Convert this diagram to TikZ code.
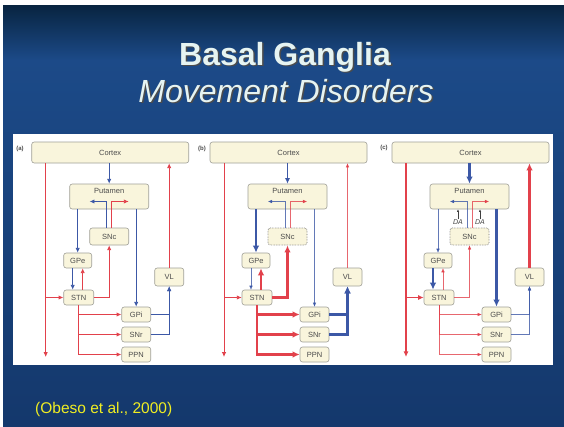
\documentclass[tikz,border=0pt]{standalone}
\usepackage{fontspec}
\setmainfont{Liberation Sans}
\usetikzlibrary{arrows.meta}
\definecolor{bgtop}{HTML}{082440}
\definecolor{bgmid}{HTML}{1C4A88}
\definecolor{bgbot}{HTML}{14386C}
\definecolor{boxfill}{HTML}{F9F5DC}
\definecolor{boxline}{HTML}{A0A098}
\definecolor{ared}{HTML}{E2414B}
\definecolor{ablue}{HTML}{3C58A6}
\definecolor{titlecol}{HTML}{E6F4F2}
\definecolor{citecol}{HTML}{F0EE22}
\tikzset{
  bx/.style={draw=boxline, fill=boxfill, rounded corners=2.5pt, line width=0.6pt,
    font=\fontsize{7.5}{8}\selectfont, text=black!70, inner sep=0pt,
    minimum width=29pt, minimum height=15pt},
  boxtxt/.style={font=\fontsize{7.5}{8}\selectfont, text=black!70, inner sep=0pt},
  arrtip/.style={-{Latex[length=3.5pt 1.6,width=3pt 1.6]}},
  rd/.style={draw=ared, arrtip},
  bl/.style={draw=ablue, arrtip},
  lwthin/.style={line width=0.35pt, draw opacity=0.8},
  lwmed/.style={line width=0.8pt},
  lwmedp/.style={line width=1.3pt},
  lwthick/.style={line width=2.2pt},
  nobox/.style={},
  dotbox/.style={draw=black!55, densely dotted, line width=0.8pt},
  plab/.style={font=\bfseries\fontsize{6}{7}\selectfont, text=black!70, inner sep=0pt},
  % panel a
  actp/.style={lwmed}, apge/.style={lwmed}, apgi/.style={lwmed}, asnb/.style={lwmed},
  asnr/.style={lwmed}, ags/.style={lwmed}, asg/.style={lwmed}, assn/.style={lwmed},
  asout/.style={lwmed}, agvl/.style={lwmed}, avlc/.style={lwmed}, acst/.style={lwmed},
  asnbox/.style={nobox},
  % panel b
  bctp/.style={lwmedp}, bpge/.style={lwthick}, bpgi/.style={lwthin}, bsnb/.style={lwthin},
  bsnr/.style={lwthin}, bgs/.style={lwthin}, bsg/.style={lwthick}, bssn/.style={lwthick},
  bsout/.style={lwthick}, bgvl/.style={lwthick}, bvlc/.style={lwthin}, bcst/.style={lwmed},
  bsnbox/.style={dotbox},
  % panel c
  cctp/.style={lwthick}, cpge/.style={lwthin}, cpgi/.style={lwthick}, csnb/.style={lwthin},
  csnr/.style={lwthin}, cgs/.style={lwthick}, csg/.style={lwthin}, cssn/.style={lwthin},
  csout/.style={lwthin}, cgvl/.style={lwthin}, cvlc/.style={lwthick}, ccst/.style={lwmedp},
  csnbox/.style={dotbox},
}
\newcommand\bgpanel[2]{%
\begin{scope}[shift={(#2,0)}]
  \node[bx, minimum width=157pt, minimum height=21pt] (#1ctx) at (78.5,152.5) {Cortex};
  \node[bx, minimum width=79pt, minimum height=25pt] (#1put) at (77.5,196.5) {};
  \node[boxtxt] (#1putt) at (77.5,190.5) {Putamen};
  \node[bx, minimum width=39pt, minimum height=17pt, #1snbox] (#1snc) at (77.5,236.5) {SNc};
  \node[bx, minimum width=28pt] (#1gpe) at (46,260.5) {GPe};
  \node[bx, minimum width=30pt] (#1stn) at (47,297.5) {STN};
  \node[bx, minimum height=18pt] (#1vl) at (137.5,277) {VL};
  \node[bx] (#1gpi) at (104.5,314.5) {GPi};
  \node[bx] (#1snr) at (104.5,334.5) {SNr};
  \node[bx] (#1ppn) at (104.5,354.5) {PPN};
  \coordinate (#1rlend) at (14,357);
  \coordinate (#1sbt) at (75,201.5);
  \coordinate (#1sbe) at (58,201.5);
  \coordinate (#1srt) at (80,201.5);
  \coordinate (#1sre) at (97,201.5);
  \draw[rd,#1cst] (#1ctx.south -| #1rlend) -- (#1rlend);
  \draw[rd,#1cst] (#1rlend |- #1stn.west) -- (#1stn.west);
  \draw[bl,#1ctp] (#1ctx.south -| #1put.north) -- (#1put.north);
  \draw[bl,#1pge] (#1put.south -| #1gpe.north) -- (#1gpe.north);
  \draw[bl,#1pgi] (#1put.south -| #1gpi.north) -- (#1gpi.north);
  \draw[bl,#1snb] (#1snc.north -| #1sbt) -- (#1sbt) -- (#1sbe);
  \draw[rd,#1snr] (#1snc.north -| #1srt) -- (#1srt) -- (#1sre);
  \draw[bl,#1gs] ([xshift=-5pt]#1gpe.south) -- ([xshift=-5pt]#1gpe.south |- #1stn.north);
  \draw[rd,#1sg] ([xshift=5pt]#1gpe.south |- #1stn.north) -- ([xshift=5pt]#1gpe.south);
  \draw[rd,#1ssn] (#1stn.east) -| (#1snc.south);
  \draw[rd,#1sout] (#1stn.south) |- (#1gpi.west);
  \draw[rd,#1sout] (#1stn.south) |- (#1snr.west);
  \draw[rd,#1sout] (#1stn.south) |- (#1ppn.west);
  \draw[bl,#1gvl] (#1gpi.east) -| (#1vl.south);
  \draw[bl,#1gvl] (#1snr.east) -| (#1vl.south);
  \draw[rd,#1vlc] (#1vl.north) -- (#1vl.north |- #1ctx.south);
\end{scope}}
\begin{document}
\begin{tikzpicture}[x=1pt,y=-1pt]
  \useasboundingbox (0,0) rectangle (564,426);
  \fill[white] (0,0) rectangle (564,426);
  \shade[top color=bgtop, bottom color=bgmid] (3,5) rectangle (564,60);
  \shade[top color=bgmid, bottom color=bgbot] (3,60) rectangle (564,426);
  % title
  \node[font=\bfseries\fontsize{32}{34}\selectfont, text=black!70, anchor=base] (titlesh) at (286.5,66.5) {Basal Ganglia};
  \node[font=\bfseries\fontsize{32}{34}\selectfont, text=titlecol, anchor=base] (title) at (285,65) {Basal Ganglia};
  \node[font=\itshape\fontsize{32}{34}\selectfont, text=black!70, anchor=base] (subsh) at (287.5,103.5) {Movement Disorders};
  \node[font=\itshape\fontsize{32}{34}\selectfont, text=titlecol, anchor=base] (sub) at (286,102) {Movement Disorders};
  % white figure panel
  \fill[white] (13,134) rectangle (553,365);
  \node[plab] (la) at (20,149) {(a)};
  \node[plab] (lb) at (202,149) {(b)};
  \node[plab] (lc) at (384,148) {(c)};
  \bgpanel{a}{31.7}
  \bgpanel{b}{210}
  \bgpanel{c}{392}
  % DA labels in panel c
  \node[font=\itshape\fontsize{7}{8}\selectfont, text=black!75, inner sep=0pt] (da1) at (458,222) {DA};
  \node[font=\itshape\fontsize{7}{8}\selectfont, text=black!75, inner sep=0pt] (da2) at (480,222) {DA};
  \draw[black!75, line width=0.4pt, -{Latex[length=2.5pt,width=2.2pt]}] (da1.north) -- (da1.north |- cput.south);
  \draw[black!75, line width=0.4pt, -{Latex[length=2.5pt,width=2.2pt]}] (da2.north) -- (da2.north |- cput.south);
  % citation
  \node[font=\fontsize{15.5}{17}\selectfont, text=citecol, anchor=base west, inner sep=0pt] (cite) at (35,413) {(Obeso et al., 2000)};
\end{tikzpicture}
\end{document}
